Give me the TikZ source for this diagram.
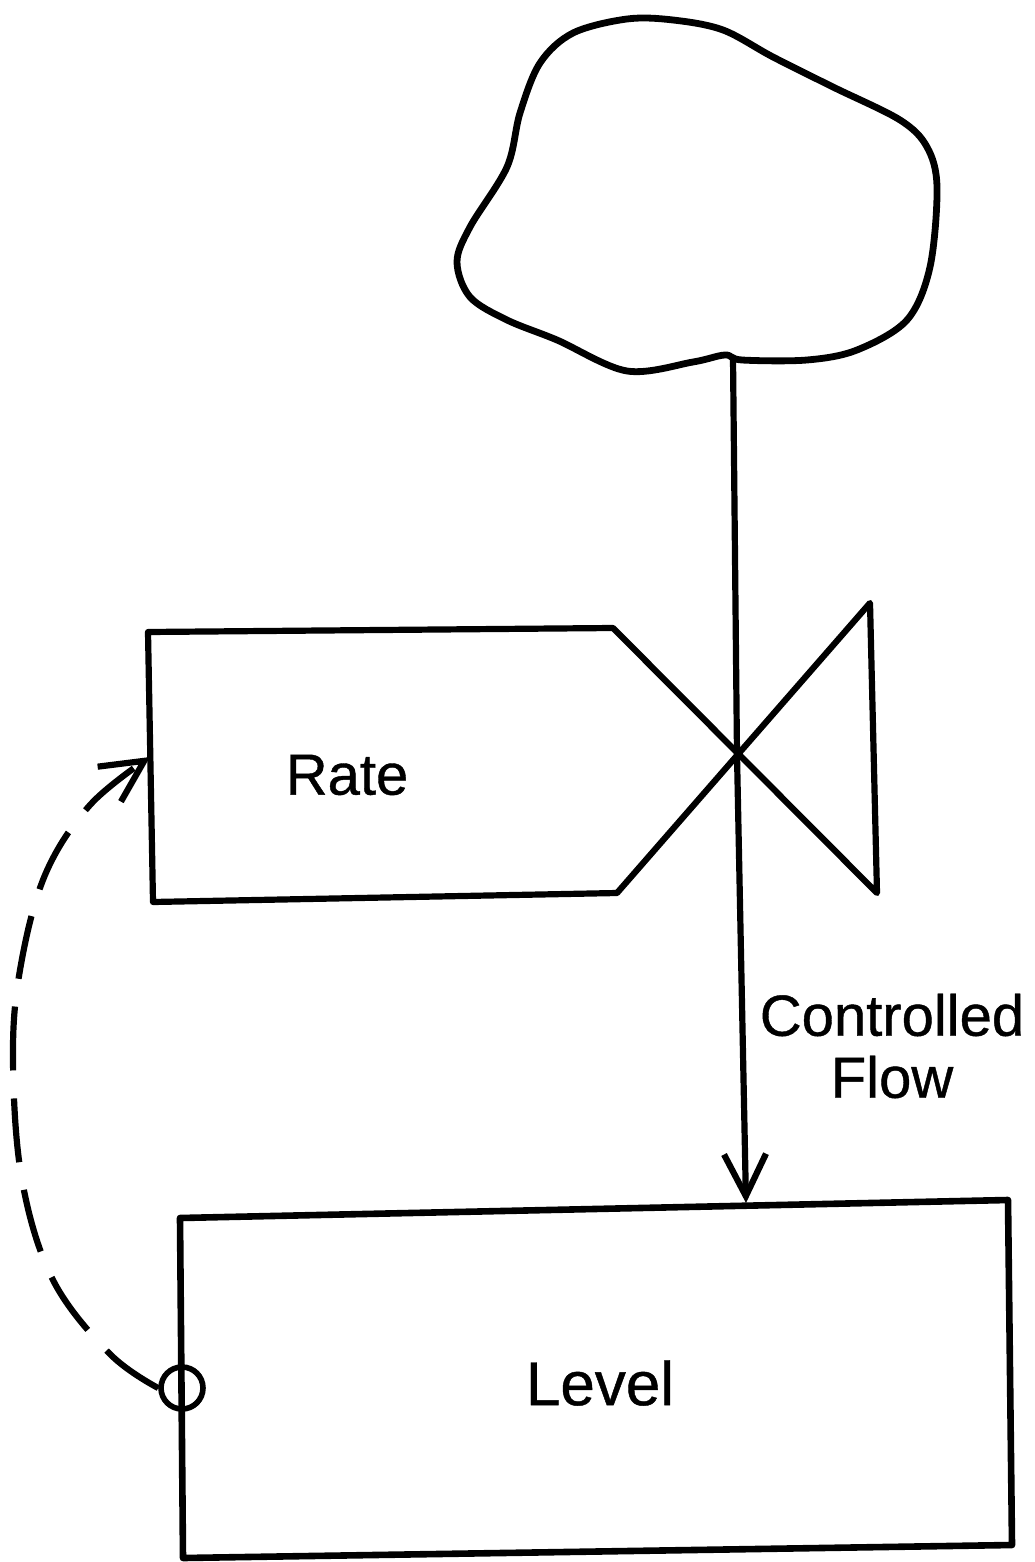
\documentclass[tikz,border=0pt]{standalone}
\usepackage{fontspec}
\setmainfont{Liberation Sans}[FakeBold=0.7]
\usetikzlibrary{arrows.meta}
\begin{document}
\begin{tikzpicture}[x=0.5pt,y=-0.5pt,
  ink/.style={line width=3.1pt, line join=round, line cap=round},
  lbl/.style={font=\fontsize{29}{31}\selectfont, inner sep=0pt, align=center},
  barb/.style={-{Straight Barb[length=21pt,width=21pt]}}]
\useasboundingbox[fill=white] (0,0) rectangle (1034,1562);

% source cloud
\draw[ink, line width=3.4pt] plot[smooth cycle, tension=0.55] coordinates {
  (627,19) (573,33) (540,63) (520,113) (507,167) (470,227) (457,262)
  (470,297) (507,320) (557,340) (627,371) (693,362) (725,355) (742,360)
  (807,360) (857,350) (907,320) (930,267) (937,187) (927,147) (900,120)
  (833,87) (773,57) (723,30) (673,20)};
\coordinate (cloudout) at (733,358);

% rate symbol with valve
\coordinate (valve) at (737,755);
\coordinate (rtl) at (148,632);
\coordinate (rbl) at (153,902);
\coordinate (va) at (613,628);
\coordinate (vb) at (877,893);
\coordinate (vc) at (870,603);
\coordinate (vd) at (617,893);
\draw[ink] (rtl) -- (va) -- (vb) -- (vc) -- (vd) -- (rbl) -- cycle;
\node[lbl] (rate) at (347,775) {Rate};
\coordinate (ratein) at (150,757);

% level box
\coordinate (ltl) at (180,1218);
\coordinate (ltr) at (1008,1200);
\coordinate (lbr) at (1012,1545);
\coordinate (lbl) at (183,1558);
\draw[ink, line width=3.3pt] (ltl) -- (ltr) -- (lbr) -- (lbl) -- cycle;
\node[lbl, font=\fontsize{31}{33}\selectfont] (level) at (600,1383) {Level};
\coordinate (levelin) at (746,1203);

% level take-off point
\node[circle, draw, line width=2.8pt, minimum size=21pt, inner sep=0pt] (tap) at (182,1388) {};

% controlled flow from the cloud through the valve into the level
\draw[ink, barb] (cloudout) -- (valve) -- (levelin);
\node[lbl] (flowlbl) at (892,1046) {Controlled\\Flow};

% information link from the level back to the rate
\draw[ink, line cap=butt, dash pattern=on 32pt off 14pt, barb]
  plot[smooth, tension=0.6] coordinates {
    (tap.west) (110,1354) (53,1280) (22,1180) (13,1060) (20,970)
    (45,875) (90,805) (ratein)};
\end{tikzpicture}
\end{document}
